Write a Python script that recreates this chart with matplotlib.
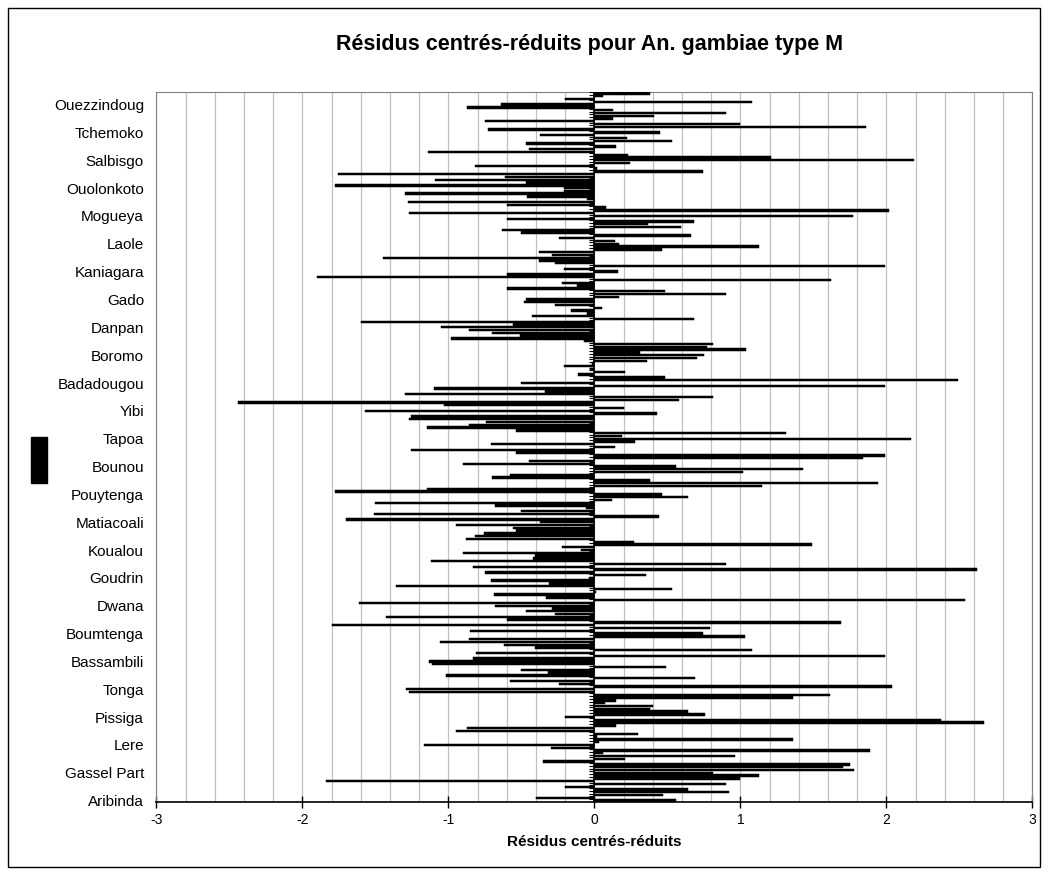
import matplotlib.pyplot as plt
from matplotlib.patches import Rectangle
import numpy as np

plt.rcParams['font.family'] = ['Liberation Sans', 'DejaVu Sans']

# residus lus de haut en bas sur le graphique (255 categories)
residus_haut_en_bas = [
    0.38, 0.06, -0.20, 1.08, -0.64, -0.87, 0.13, 0.90, 0.41, 0.13, -0.75, 1.00,
    1.86, -0.73, 0.45, -0.37, 0.22, 0.53, -0.47, 0.15, -0.45, -1.14, 0.23, 1.21,
    2.19, 0.24, -0.82, 0.02, 0.74, -1.76, -0.61, -1.09, -0.47, -1.78, -0.21, -0.21,
    -1.30, -0.46, -0.05, -1.28, -0.60, 0.08, 2.02, -1.27, 1.77, -0.60, 0.68, 0.37,
    0.59, -0.63, -0.50, 0.66, -0.24, 0.14, 0.17, 1.13, 0.46, -0.38, -0.29, -1.45,
    -0.38, -0.27, 1.99, -0.21, 0.16, -0.60, -1.90, 1.62, -0.22, -0.12, -0.60, 0.48,
    0.90,
    0.17, -0.47, -0.48, -0.27, 0.05, -0.16, -0.05, -0.43, 0.68, -1.60, -0.56, -1.05,
    -0.86, -0.70, -0.51, -0.98, -0.07, 0.81, 0.77, 1.04, 0.31, 0.75, 0.70, 0.36,
    -0.02, -0.21, -0.03, 0.21, -0.11, 0.48, 2.49, -0.50, 1.99, -1.10, -0.34, -1.30,
    0.81,
    0.58, -2.44, -1.03, 0.20, -1.57, 0.43, -1.26, -1.27, -0.74, -0.86, -1.15, -0.54,
    1.31, 0.19, 2.17, 0.28, -0.71, 0.14, -1.26, -0.54, 1.99, 1.84, -0.45, -0.90,
    0.56, 1.43, 1.02, -0.58, -0.70, 0.38, 1.94, 1.15, -1.15, -1.78, 0.46, 0.64,
    0.12, -1.50, -0.68, -0.06, -0.50, -1.51, 0.44, -1.70, -0.37, -0.95, -0.56, -0.54,
    -0.76, -0.82, -0.88, 0.27, 1.49, -0.22, -0.09, -0.90, -0.41, -0.42, -1.12, 0.90,
    -0.83, 2.62, -0.75, 0.35, -0.04, -0.71, -0.31, -1.36, 0.53, 0.01, -0.69, -0.33,
    2.54, -1.61, -0.68, -0.29, -0.47, -0.27, -1.43, -0.60, 1.69, -1.80, 0.79, -0.85,
    0.74, 1.03, -0.86, -1.06, -0.62, -0.41, 1.08, -0.81, 1.99, -0.83, -1.13, -1.11,
    0.49, -0.50, -0.32, -1.02, 0.69, -0.58, -0.24, 2.04, -1.29, -1.27, 1.61, 1.36,
    0.15,
    0.07, 0.40, 0.38, 0.64, 0.76, -0.20, 2.37, 2.67, 0.15, -0.87, -0.95, 0.30,
    0.02, 1.36, 0.03, -1.17, -0.30, 1.89, 0.06, 0.96, 0.21, -0.35, 1.75, 1.70,
    1.78, 0.81, 1.13, 1.00, -1.84, 0.90, -0.20, 0.64, 0.92, 0.47, -0.40, 0.56,
]

# etiquettes affichees (une categorie sur 10), de bas en haut
villages = [
    'Aribinda', 'Gassel Part', 'Lere', 'Pissiga', 'Tonga', 'Bassambili',
    'Boumtenga', 'Dwana', 'Goudrin', 'Koualou', 'Matiacoali', 'Pouytenga',
    'Bounou', 'Tapoa', 'Yibi', 'Badadougou', 'Boromo', 'Danpan', 'Gado',
    'Kaniagara', 'Laole', 'Mogueya', 'Ouolonkoto', 'Salbisgo', 'Tchemoko',
    'Ouezzindoug',
]
pas_etiquettes = 10

valeurs = np.array(residus_haut_en_bas[::-1])
n = len(valeurs)
y = np.arange(1, n + 1)

fig = plt.figure(figsize=(10.48, 8.75), dpi=100)
ax = fig.add_axes([0.1493, 0.0834, 0.8359, 0.8114])

ax.barh(y, valeurs, height=0.85, color='black', edgecolor='black',
        linewidth=0.35, zorder=3)

ax.set_xlim(-3, 3)
ax.set_ylim(0.5, n + 0.5)

# grille verticale tous les 0.2
ax.set_xticks(np.arange(-3, 3.01, 1))
ax.set_xticks(np.arange(-3, 3.01, 0.2), minor=True)
ax.grid(True, axis='x', which='both', color='#c0c0c0', lw=0.9, zorder=0)
ax.tick_params(axis='x', which='major', direction='inout', length=8,
               width=1, labelsize=10, pad=4)
ax.tick_params(axis='x', which='minor', length=0)
ax.set_xticklabels([str(v) for v in range(-3, 4)])

# axe des categories en 0 avec petites graduations
ax.axvline(0, color='black', lw=1.2, zorder=4)
ax.hlines(np.arange(0.5, n + 1), -0.035, 0, color='black', lw=0.8, zorder=4)

ax.set_yticks(y[::pas_etiquettes])
ax.set_yticklabels(villages, fontsize=11)
ax.tick_params(axis='y', length=0, pad=9)

for side in ['left', 'top', 'right']:
    ax.spines[side].set_color('#808080')
ax.spines['bottom'].set_color('black')
ax.spines['bottom'].set_linewidth(1.2)

ax.set_xlabel('Résidus centrés-réduits', fontsize=11, fontweight='bold', labelpad=6)
fig.text(0.563, 0.9486, 'Résidus centrés-réduits pour An. gambiae type M',
         ha='center', va='center', fontsize=15.5, fontweight='bold')

# cadre de la zone de graphique et pave de legende
fig.patches.append(Rectangle((0.0076, 0.0091), 0.9847, 0.9817, transform=fig.transFigure,
                             fill=False, edgecolor='black', lw=1))
fig.patches.append(Rectangle((0.0296, 0.448), 0.0153, 0.0526, transform=fig.transFigure,
                             facecolor='black', edgecolor='black'))

fig.savefig('out.png', dpi=100)
